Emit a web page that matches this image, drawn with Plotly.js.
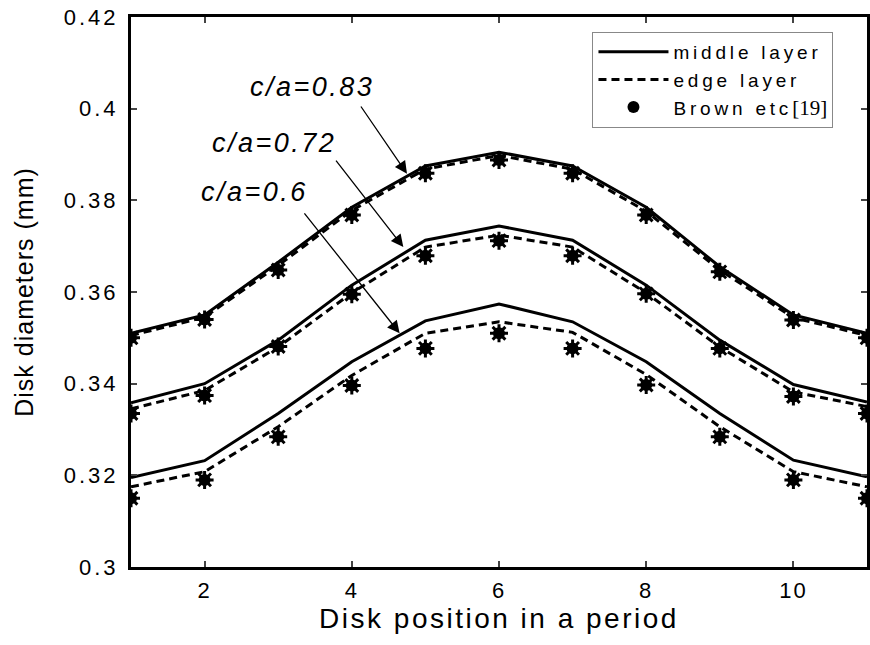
<!DOCTYPE html>
<html>
<head>
<meta charset="utf-8">
<script src="https://cdn.plot.ly/plotly-3.0.1.min.js"></script>
<style>html,body{margin:0;padding:0;background:#fff;}#chart{width:870px;height:645px;}</style>
</head>
<body>
<div id="chart"></div>
<script>
// Disk position in a period
const positions = [1, 2, 3, 4, 5, 6, 7, 8, 9, 10, 11];

// c/a = 0.83
const middle083 = [0.3510, 0.3550, 0.3665, 0.3785, 0.3875, 0.3905, 0.3875, 0.3785, 0.3655, 0.3550, 0.3510];
const edge083   = [0.3505, 0.3545, 0.3658, 0.3778, 0.3868, 0.3898, 0.3868, 0.3776, 0.3648, 0.3544, 0.3505];
const brown083  = [0.3500, 0.3540, 0.3648, 0.3768, 0.3859, 0.3888, 0.3859, 0.3768, 0.3644, 0.3539, 0.3500];

// c/a = 0.72
const middle072 = [0.3358, 0.3400, 0.3495, 0.3615, 0.3713, 0.3744, 0.3713, 0.3615, 0.3495, 0.3398, 0.3360];
const edge072   = [0.3345, 0.3385, 0.3480, 0.3598, 0.3698, 0.3724, 0.3698, 0.3598, 0.3480, 0.3382, 0.3350];
const brown072  = [0.3335, 0.3374, 0.3481, 0.3595, 0.3679, 0.3712, 0.3679, 0.3596, 0.3477, 0.3372, 0.3335];

// c/a = 0.6
const middle060 = [0.3195, 0.3232, 0.3335, 0.3448, 0.3537, 0.3574, 0.3535, 0.3448, 0.3335, 0.3233, 0.3197];
const edge060   = [0.3175, 0.3208, 0.3306, 0.3418, 0.3510, 0.3535, 0.3512, 0.3420, 0.3306, 0.3208, 0.3175];
const brown060  = [0.3150, 0.3190, 0.3284, 0.3396, 0.3477, 0.3510, 0.3477, 0.3397, 0.3284, 0.3190, 0.3150];

const xTicks = [2, 4, 6, 8, 10];
const xTickText = ['2', '4', '6', '8', '10'];
const yTicks = [0.3, 0.32, 0.34, 0.36, 0.38, 0.4, 0.42];
const yTickText = ['0.3', '0.32', '0.34', '0.36', '0.38', '0.4', '0.42'];

// annotation labels: [text, textX, textY, tailX, tailY, headX, headY]
const labels = [
  ['c/a=0.83', 3.46, 0.4047, 4.11, 0.4008, 4.75, 0.3858],
  ['c/a=0.72', 2.94, 0.3925, 3.77, 0.3890, 4.70, 0.3698],
  ['c/a=0.6',  2.68, 0.3818, 3.34, 0.3775, 4.65, 0.3510]
];

const FONT = '"Liberation Sans", Arial, sans-serif';
const lineW = 3;
const sp = (t, px) => '<span style="letter-spacing:' + px + 'px">' + t + '</span>';

function solid(y, show) {
  return {x: positions, y: y, mode: 'lines', name: sp('middle layer', 3.8), legendgroup: 'm',
    showlegend: show, line: {color: '#000', width: lineW}};
}
function dashed(y, show) {
  return {x: positions, y: y, mode: 'lines', name: sp('edge layer', 3.8), legendgroup: 'e',
    showlegend: show, line: {color: '#000', width: lineW, dash: '8px,5px'}};
}
function brown(y, show) {
  return {x: positions, y: y, mode: 'markers',
    name: sp('Brown etc', 3.8) + '<span style="font-family:Liberation Serif,serif;font-size:21px">[19]</span>',
    legendgroup: 'b', showlegend: show,
    marker: {symbol: 'circle', size: 12, color: '#000', line: {color: '#000', width: 0}}};
}
function brownSpikes(y) {
  return {x: positions, y: y, mode: 'markers', legendgroup: 'b', showlegend: false, hoverinfo: 'skip',
    marker: {symbol: 'asterisk-open', size: 15, color: '#000', line: {color: '#000', width: 3}}};
}

const data = [
  solid(middle083, true), solid(middle072, false), solid(middle060, false),
  dashed(edge083, true), dashed(edge072, false), dashed(edge060, false),
  brown(brown083, true), brown(brown072, false), brown(brown060, false),
  brownSpikes(brown083), brownSpikes(brown072), brownSpikes(brown060)
];

const annotations = [];
labels.forEach(l => {
  annotations.push({x: l[1], y: l[2], xref: 'x', yref: 'y', text: sp(l[0], 2.5), showarrow: false,
    font: {family: FONT, size: 27, color: '#000', style: 'italic'}});
  annotations.push({x: l[5], y: l[6], xref: 'x', yref: 'y', ax: l[3], ay: l[4], axref: 'x', ayref: 'y',
    text: '', showarrow: true, arrowhead: 2, arrowsize: 1.9, arrowwidth: 1.3, arrowcolor: '#000'});
});

const layout = {
  width: 870, height: 645,
  margin: {l: 131, r: 3, t: 17, b: 78},
  paper_bgcolor: '#fff', plot_bgcolor: '#fff',
  font: {family: FONT, color: '#000'},
  showlegend: true,
  legend: {x: 0.627, y: 0.973, xanchor: 'left', yanchor: 'top',
    bgcolor: '#fff', bordercolor: '#888', borderwidth: 1,
    font: {family: FONT, size: 19, color: '#000'}, itemwidth: 70, tracegroupgap: 0},
  xaxis: {range: [1, 11], tickvals: xTicks, ticktext: xTickText.map(t => sp(t, 2)),
    ticks: 'inside', ticklen: 6, tickwidth: 2,
    showline: true, linewidth: 3, linecolor: '#000', mirror: 'ticks', showgrid: false, zeroline: false,
    tickfont: {family: FONT, size: 22}, ticklabelstandoff: 2,
    title: {text: sp('Disk position in a period', 2.5), font: {family: FONT, size: 28}, standoff: 6}},
  yaxis: {range: [0.3, 0.42], tickvals: yTicks, ticktext: yTickText.map(t => sp(t, 3)),
    ticks: 'inside', ticklen: 6, tickwidth: 2,
    showline: true, linewidth: 3, linecolor: '#000', mirror: 'ticks', showgrid: false, zeroline: false,
    tickfont: {family: FONT, size: 22}, ticklabelstandoff: 5,
    title: {text: sp('Disk diameters (mm)', 1), font: {family: FONT, size: 25}, standoff: 24}},
  annotations: annotations
};

Plotly.newPlot('chart', data, layout, {displayModeBar: false, staticPlot: true});
</script>
</body>
</html>
